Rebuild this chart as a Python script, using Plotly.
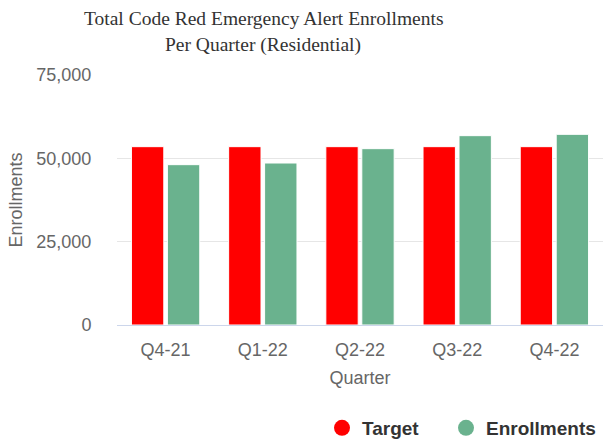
import plotly.graph_objects as go

quarters = ["Q4-21", "Q1-22", "Q2-22", "Q3-22", "Q4-22"]
target = [53500, 53500, 53500, 53500, 53500]
enrollments = [48100, 48600, 52900, 56800, 57200]
title_lines = ["Total Code Red Emergency Alert Enrollments", "Per Quarter (Residential)"]

RED = "#ff0000"
GREEN = "#6ab28e"

fig = go.Figure()
fig.add_trace(go.Bar(x=quarters, y=target, name="Target", marker=dict(color=RED, line=dict(color="white", width=1)), showlegend=False))
fig.add_trace(go.Bar(x=quarters, y=enrollments, name="Enrollments", marker=dict(color=GREEN, line=dict(color="white", width=1)), showlegend=False))
# legend entries with circle symbols
fig.add_trace(go.Scatter(x=[None], y=[None], mode="markers", name="Target", legend="legend",
                         marker=dict(color=RED, size=20, symbol="circle")))
fig.add_trace(go.Scatter(x=[None], y=[None], mode="markers", name="Enrollments", legend="legend2",
                         marker=dict(color=GREEN, size=20, symbol="circle")))

PL, PT, PW, PH = 117, 75, 486, 250
for line, cy in zip(title_lines, [18, 45]):
    fig.add_annotation(text=line, xref="paper", yref="paper",
                       x=(263 - PL) / PW, y=1 + (PT - cy) / PH, xanchor="center", yanchor="middle",
                       showarrow=False, font=dict(family="Liberation Serif", size=19.5, color="#333333"))

legend_common = dict(orientation="h", xanchor="left", xref="container",
                     y=1 - 428 / 442, yanchor="middle", yref="container",
                     font=dict(family="Liberation Sans, Arial", size=19, color="#333333", weight="bold"),
                     itemsizing="trace", itemwidth=30, bgcolor="rgba(0,0,0,0)")

fig.update_layout(
    width=604, height=442,
    margin=dict(l=PL, r=604 - PL - PW, t=PT, b=442 - PT - PH, autoexpand=False),
    paper_bgcolor="white", plot_bgcolor="white",
    barmode="group", bargap=0.26, bargroupgap=0.1,
    font=dict(family="Liberation Sans, Arial", color="#666666", size=18),
    xaxis=dict(title=dict(text="Quarter", font=dict(size=18, color="#666666"), standoff=12),
               showline=True, linecolor="#ccd6eb", linewidth=1, showgrid=False, automargin=False,
               ticks="outside", ticklen=8, tickcolor="rgba(0,0,0,0)", tickfont=dict(size=18, color="#666666")),
    yaxis=dict(title=dict(text="Enrollments", font=dict(size=18, color="#666666"), standoff=9),
               range=[0, 75000], tickvals=[0, 25000, 50000, 75000], tickformat=",",
               showgrid=True, gridcolor="#e6e6e6", gridwidth=1, zeroline=False, automargin=False,
               ticks="outside", ticklen=21, tickcolor="rgba(0,0,0,0)",
               tickfont=dict(size=18, color="#666666")),
    legend=dict(x=(342 - 20) / 604, **legend_common),
    legend2=dict(x=(467 - 21) / 604, **legend_common),
)

fig.write_html("out.html", post_script="document.body.style.margin='0';",
               config={"displayModeBar": False})
